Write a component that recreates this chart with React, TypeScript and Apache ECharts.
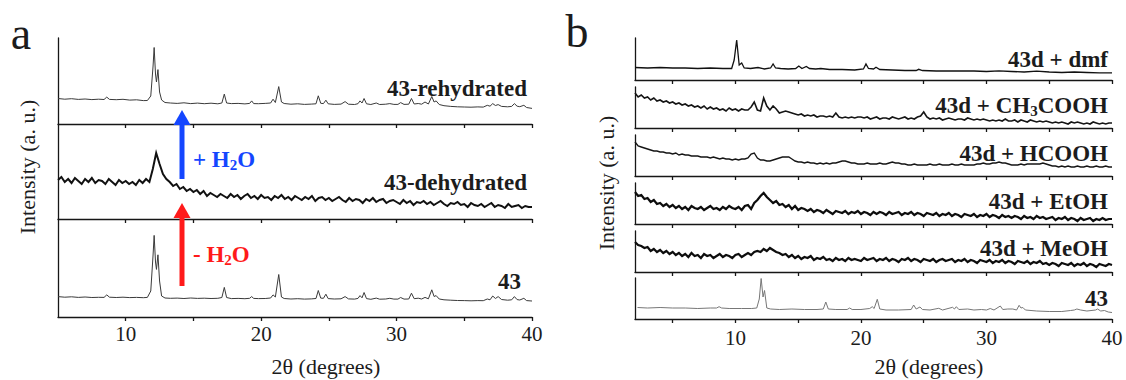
import React, { useEffect, useRef } from "react";
import * as echarts from "echarts";

const FONT = "Liberation Serif";

// ---------- tick values ----------
const A_TICKS = [10, 15, 20, 25, 30, 35, 40];
const A_LABELS = [10, 20, 30, 40];
const B_TICKS = [5, 10, 15, 20, 25, 30, 35, 40];
const B_LABELS = [10, 20, 30, 40];

// ---------- panel a data (intensity in arbitrary units above each baseline axis) ----------
const A_REHYDRATED: [number, number][] = [
  [5, 25.5], [5.5, 24.8], [6, 25.3], [6.5, 24.6], [7, 25], [7.5, 24.4], [8, 24.8], [8.4, 24.5], [8.6, 26.9], [8.8, 24.6],
  [9.3, 24.3], [9.8, 24.7], [10.3, 23.9], [10.8, 24.2], [11.3, 23.4], [11.6, 23.5], [11.85, 28], [12.02, 58], [12.1, 76.5],
  [12.2, 50], [12.27, 42], [12.38, 54.4], [12.5, 32], [12.65, 24], [12.9, 21.5], [13.3, 21], [13.8, 20.6], [14.3, 21.2],
  [14.8, 20.4], [15.3, 20.9], [15.8, 20.3], [16.3, 20.8], [16.8, 20.2], [17.1, 21], [17.28, 29.9], [17.45, 21], [17.8, 20.4],
  [18.3, 20.6], [18.8, 20.1], [19.15, 20.6], [19.3, 23.1], [19.45, 20.4], [19.8, 20.3], [20.3, 20.6], [20.7, 21], [20.88, 24.8],
  [21.05, 21.5], [21.3, 37.4], [21.5, 22], [21.7, 20.5], [22.2, 19.8], [22.7, 20.2], [23.2, 19.6], [23.7, 19.9], [24.05, 20.2],
  [24.22, 28.2], [24.4, 20.7], [24.6, 20.4], [24.78, 23.8], [24.95, 20.2], [25.4, 19.6], [25.9, 19.9], [26.2, 22.4], [26.45, 19.8],
  [26.9, 19.5], [27.15, 20.3], [27.3, 23.1], [27.45, 21], [27.6, 25.5], [27.78, 20.2], [28.1, 19.5], [28.5, 21], [28.75, 19.5],
  [29.2, 19.8], [29.5, 20.4], [29.8, 19.6], [30.1, 19.6], [30.3, 21.4], [30.55, 19.6], [30.9, 19.8], [31.1, 25.5], [31.3, 20],
  [31.6, 20.5], [31.85, 19.8], [32.1, 22], [32.35, 20], [32.6, 27.5], [32.77, 22], [32.92, 23.1], [33.15, 19.5], [33.5, 18.3],
  [34, 17.6], [34.5, 17.2], [35, 17], [35.5, 16.8], [36, 17.1], [36.4, 16.9], [36.7, 18.7], [36.9, 17.8], [37.1, 20.4],
  [37.3, 18.5], [37.5, 19.4], [37.75, 17.6], [38.2, 17.2], [38.5, 17.6], [38.7, 20.4], [38.9, 17.8], [39.1, 17.3], [39.4, 18.7],
  [39.6, 16.5], [40, 15.6],
];

// dehydrated: sampled every 0.25 deg from 5 to 40
const A_DEHYDRATED_START = 5;
const A_DEHYDRATED_STEP = 0.25;
const A_DEHYDRATED: number[] = [
  39, 42, 37, 40, 36, 41, 38, 35, 40, 37, 41, 36, 39, 38, 35, 40, 37, 34, 39, 36,
  38, 35, 37, 34, 39, 36, 40, 37, 50, 66, 55, 45, 40, 37, 33, 35, 30, 32, 28, 30,
  27, 29, 25, 28, 23, 26, 24, 22, 25, 23, 21, 25, 22, 24, 20, 23, 25, 21, 23, 20,
  24, 21, 22, 19, 23, 21, 24, 20, 22, 19, 23, 21, 19, 22, 20, 23, 18, 21, 22, 19,
  21, 18, 20, 22, 19, 17, 21, 18, 20, 19, 16, 20, 18, 21, 17, 19, 20, 16, 18, 19,
  17, 15, 19, 16, 18, 14, 17, 16, 18, 15, 17, 14, 16, 18, 15, 13, 16, 15, 17, 14,
  15, 12, 16, 14, 13, 15, 12, 14, 16, 12, 14, 13, 11, 15, 12, 13, 14, 11, 13, 12,
  12,
];

const A_43: [number, number][] = [
  [5, 20.4], [5.5, 19.8], [6, 20.2], [6.5, 19.6], [7, 20], [7.5, 19.5], [8, 19.7], [8.4, 19.6], [8.6, 22.1], [8.8, 19.8],
  [9.3, 19.5], [9.8, 19.8], [10.3, 19.4], [10.8, 19.6], [11.3, 19.3], [11.6, 19.6], [11.85, 26], [12.02, 62], [12.1, 81.6],
  [12.2, 55], [12.27, 47.6], [12.38, 62.2], [12.5, 36], [12.65, 21], [12.9, 19], [13.3, 18.7], [13.8, 18.9], [14.3, 18.5],
  [14.8, 19], [15.3, 18.6], [15.8, 18.8], [16.3, 18.5], [16.8, 18.7], [17.1, 19.5], [17.28, 29.6], [17.45, 19.5], [17.8, 18.4],
  [18.3, 18.6], [18.8, 18.3], [19.15, 18.7], [19.3, 20.4], [19.45, 18.6], [19.8, 18.4], [20.3, 18.5], [20.7, 19], [20.88, 22.1],
  [21.05, 20], [21.3, 42.5], [21.5, 20], [21.7, 18.5], [22.2, 18], [22.7, 18.3], [23.2, 17.9], [23.7, 18.1], [24.05, 18.5],
  [24.22, 26.5], [24.4, 18.9], [24.6, 18.7], [24.78, 22.8], [24.95, 18.4], [25.4, 18], [25.9, 18.2], [26.2, 20.4], [26.45, 18.1],
  [26.9, 17.9], [27.15, 18.6], [27.3, 21.4], [27.45, 19.2], [27.6, 24.5], [27.78, 18.4], [28.1, 17.7], [28.5, 18.9], [28.75, 17.8],
  [29.2, 18], [29.5, 18.7], [29.8, 17.9], [30.1, 17.9], [30.3, 19.5], [30.55, 17.9], [30.9, 18], [31.1, 23.8], [31.3, 18.3],
  [31.6, 18.8], [31.85, 18], [32.1, 19.6], [32.35, 18.2], [32.6, 27.2], [32.77, 20.5], [32.92, 21.4], [33.15, 18], [33.5, 17.2],
  [34, 16.8], [34.5, 16.5], [35, 16.4], [35.5, 16.2], [36, 16.4], [36.4, 16.3], [36.7, 18], [36.9, 17.2], [37.1, 21],
  [37.3, 18.5], [37.5, 20.4], [37.75, 17.5], [38.2, 16.8], [38.5, 17.2], [38.7, 20.4], [38.9, 17.4], [39.1, 17], [39.4, 18.7],
  [39.6, 16.4], [40, 16],
];

// ---------- panel b data ----------
const B_DMF: [number, number][] = [
  [2, 12.5], [3, 12], [4, 12.5], [5, 12], [6, 12], [7, 11.5], [8, 12], [9, 11.5], [9.7, 11.5], [9.9, 20], [10.1, 40],
  [10.3, 15], [10.5, 17], [10.7, 12], [11.2, 11.5], [11.8, 12.5], [12.3, 11], [12.8, 12], [13.0, 16], [13.2, 12], [13.6, 11.5],
  [14.2, 11], [14.8, 11.5], [15.05, 14], [15.3, 11.5], [15.65, 13.5], [15.9, 11.5], [16.4, 11], [16.8, 11.5], [17.5, 10.5],
  [18.5, 10.5], [19.5, 10], [20.2, 11], [20.4, 16], [20.6, 11.5], [21.0, 11], [21.2, 12.7], [21.5, 10.5], [22.5, 10], [23.5, 9.5],
  [24.4, 9.5], [24.6, 10.7], [24.9, 9.5], [26, 9], [27, 9], [28, 9], [29, 9], [30, 8.5], [31, 9.2], [32, 8.5], [33, 8],
  [34, 8.8], [35, 8], [36, 7.5], [37, 8], [38, 7.5], [39, 7.2], [40, 7.2],
];

// noisy patterns sampled every 0.25 deg from 2 to 40
const B_START = 2;
const B_STEP = 0.25;
const B_CH3COOH: number[] = [
  35, 31, 33, 30, 31, 28, 30, 27, 28, 26, 27, 25, 26, 24, 25, 23, 24, 22, 23, 21,
  22, 20, 22, 19, 21, 19, 20, 18, 19, 17, 20, 18, 19, 17, 19, 18, 18, 21, 26, 18,
  17, 30, 22, 18, 22, 19, 15, 16, 17, 16, 15, 14, 13, 14, 12, 13, 12, 13, 11, 12,
  12, 11, 12, 11, 15, 11, 10, 11, 10, 11, 10, 11, 11, 10, 11, 9, 10, 11, 9, 10,
  10, 9, 11, 10, 9, 10, 11, 9, 10, 9, 11, 12, 16, 11, 9, 10, 9, 10, 8, 9,
  10, 9, 8, 9, 9, 8, 10, 9, 8, 9, 8, 9, 8, 7, 8, 7, 8, 7, 9, 7,
  7, 8, 6, 8, 7, 6, 8, 7, 6, 7, 6, 7, 6, 5, 6, 5, 6, 5, 4, 6,
  5, 6, 5, 4, 5, 4, 6, 5, 4, 5, 4, 5, 5,
];
const B_HCOOH: number[] = [
  34, 30, 29, 28, 27, 26, 25, 25, 24, 24, 23, 23, 22, 23, 21, 22, 21, 21, 20, 20,
  20, 19, 19, 19, 18, 19, 18, 17, 18, 17, 17, 16, 17, 16, 17, 17, 18, 22, 23, 18,
  16, 16, 15, 15, 16, 17, 18, 19, 19, 19, 17, 15, 14, 14, 13, 14, 13, 13, 12, 13,
  12, 13, 12, 13, 13, 14, 15, 15, 14, 13, 13, 12, 12, 12, 13, 12, 12, 12, 13, 12,
  12, 13, 14, 13, 13, 12, 12, 11, 11, 12, 11, 11, 11, 11, 12, 11, 11, 12, 11, 11,
  11, 12, 11, 11, 12, 11, 11, 11, 11, 12, 12, 13, 12, 12, 13, 13, 14, 13, 13, 12,
  11, 11, 11, 12, 11, 12, 12, 12, 12, 12, 13, 12, 11, 10, 10, 9, 10, 9, 10, 9,
  9, 10, 9, 9, 10, 9, 9, 10, 9, 9, 10, 9, 9,
];
const B_ETOH: number[] = [
  32, 28, 29, 25, 26, 22, 24, 20, 21, 18, 20, 17, 19, 16, 18, 15, 17, 14, 18, 16,
  15, 17, 14, 16, 18, 15, 16, 14, 17, 15, 18, 16, 15, 17, 14, 18, 19, 15, 21, 24,
  28, 31, 27, 24, 21, 23, 19, 20, 17, 19, 15, 18, 14, 16, 15, 13, 15, 12, 14, 13,
  11, 14, 12, 10, 13, 12, 11, 13, 10, 12, 11, 13, 10, 12, 11, 9, 12, 10, 12, 11,
  9, 12, 10, 11, 12, 9, 11, 10, 12, 9, 11, 10, 8, 11, 10, 9, 11, 8, 10, 9,
  11, 8, 10, 9, 7, 10, 9, 8, 10, 7, 9, 8, 10, 7, 9, 8, 6, 9, 7, 8,
  6, 8, 7, 5, 8, 6, 7, 5, 8, 6, 7, 5, 6, 7, 4, 6, 5, 7, 4, 6,
  5, 3, 6, 4, 5, 6, 3, 5, 4, 6, 4, 5, 5,
];
const B_MEOH: number[] = [
  30, 27, 26, 24, 25, 21, 23, 20, 22, 19, 21, 18, 20, 17, 19, 16, 18, 15, 19, 16,
  17, 14, 18, 16, 17, 14, 16, 18, 15, 17, 16, 14, 17, 18, 15, 17, 19, 17, 20, 21,
  20, 23, 21, 24, 22, 20, 19, 17, 18, 15, 17, 14, 16, 13, 15, 14, 16, 12, 14, 13,
  15, 12, 13, 11, 14, 12, 13, 11, 14, 12, 13, 12, 11, 14, 12, 13, 14, 11, 13, 12,
  14, 11, 13, 12, 10, 13, 12, 14, 11, 13, 12, 10, 13, 12, 11, 13, 10, 12, 13, 11,
  12, 13, 10, 12, 11, 13, 10, 12, 11, 9, 12, 11, 10, 12, 9, 11, 10, 12, 9, 11,
  10, 8, 11, 10, 9, 11, 8, 10, 9, 11, 8, 9, 7, 9, 8, 6, 9, 8, 7, 9,
  6, 8, 7, 9, 6, 8, 7, 5, 8, 7, 6, 8, 7,
];
const B_43: [number, number][] = [
  [2.2, 11.5], [3, 11], [4, 11.5], [5, 11], [6, 11], [7, 10.5], [8, 11], [8.5, 11], [8.7, 12.3], [8.9, 11], [9.5, 10.5],
  [10.5, 10.5], [11.3, 10.5], [11.7, 11], [11.9, 20], [12.05, 40.5], [12.2, 22], [12.32, 28.5], [12.5, 11], [12.8, 10],
  [13.5, 9.5], [14.5, 10], [15.5, 9.5], [16.5, 9.5], [17.0, 10], [17.2, 17], [17.4, 10], [18, 9.5], [18.9, 9.5], [19.1, 11],
  [19.3, 9.5], [20, 9.5], [20.7, 10.5], [20.9, 12.3], [21.05, 10.5], [21.3, 19.7], [21.5, 10], [22, 9], [23, 9], [24, 9.5],
  [24.2, 14], [24.4, 10], [24.7, 12], [24.9, 9.5], [25.5, 9], [26.2, 10.7], [26.5, 9], [27.3, 11.7], [27.45, 10], [27.6, 12.3],
  [27.8, 9.5], [28.5, 10], [29, 9], [29.6, 9.5], [30, 9], [30.3, 10.5], [30.6, 9], [31.1, 13], [31.3, 9.5], [31.7, 10],
  [32.1, 10], [32.4, 9], [32.6, 13.7], [32.75, 11], [32.9, 11.5], [33.1, 9], [34, 8], [35, 7.5], [36, 7.5], [36.7, 8.5],
  [37.0, 9], [37.2, 10], [37.5, 9], [38, 8], [38.7, 9], [38.85, 10], [39.1, 8], [39.4, 8.5], [39.7, 7], [40, 6.5],
];

// ---------- layout ----------
const A_LEFT = 58;
const A_WIDTH = 474;
const A_GRIDS = [
  { top: 38, height: 86 },
  { top: 124, height: 95 },
  { top: 219, height: 98 },
];
const B_LEFT = 635;
const B_WIDTH = 477;
const B_GRIDS = [
  { top: 38, height: 42 },
  { top: 87, height: 41 },
  { top: 135, height: 41 },
  { top: 183, height: 41 },
  { top: 231, height: 41 },
  { top: 278, height: 41 },
];

const AXIS_COLOR = "#161616";
const TEXT_COLOR = "#1c1c1c";

function uniform(start: number, step: number, vals: number[]): [number, number][] {
  return vals.map((v, i) => [start + i * step, v]);
}

export default function App() {
  const ref = useRef<HTMLDivElement>(null);

  useEffect(() => {
    if (!ref.current) return;
    const chart = echarts.init(ref.current, undefined, { renderer: "svg" });

    const grids: any[] = [];
    const xAxes: any[] = [];
    const yAxes: any[] = [];
    const series: any[] = [];

    const addPanel = (
      left: number,
      width: number,
      layout: { top: number; height: number }[],
      xmin: number,
      ticks: number[],
      labels: number[],
      labelMargin: number,
      traces: { data: [number, number][]; color: string; width: number }[]
    ) => {
      layout.forEach((g, k) => {
        const idx = grids.length;
        grids.push({ left, top: g.top, width, height: g.height, containLabel: false });
        const isBottom = k === layout.length - 1;
        xAxes.push({
          type: "value",
          gridIndex: idx,
          min: xmin,
          max: 40,
          axisLine: { show: true, onZero: false, lineStyle: { color: AXIS_COLOR, width: 1.3 } },
          axisTick: { show: true, inside: false, length: 4, customValues: ticks, lineStyle: { color: AXIS_COLOR, width: 1.3 } },
          axisLabel: {
            show: isBottom,
            customValues: labels,
            fontSize: 21,
            fontFamily: FONT,
            color: TEXT_COLOR,
            margin: labelMargin,
          },
          splitLine: { show: false },
        });
        yAxes.push({
          type: "value",
          gridIndex: idx,
          min: 0,
          max: g.height,
          axisLine: { show: true, onZero: false, lineStyle: { color: AXIS_COLOR, width: 1.3 } },
          axisTick: { show: false },
          axisLabel: { show: false },
          splitLine: { show: false },
        });
        const t = traces[k];
        series.push({
          type: "line",
          xAxisIndex: idx,
          yAxisIndex: idx,
          data: t.data,
          showSymbol: false,
          symbol: "none",
          silent: true,
          lineStyle: { color: t.color, width: t.width, join: "miter" },
        });
      });
    };

    addPanel(A_LEFT, A_WIDTH, A_GRIDS, 5, A_TICKS, A_LABELS, 6, [
      { data: A_REHYDRATED, color: "#3a3a3a", width: 1 },
      { data: uniform(A_DEHYDRATED_START, A_DEHYDRATED_STEP, A_DEHYDRATED), color: "#111", width: 2 },
      { data: A_43, color: "#3a3a3a", width: 1 },
    ]);
    addPanel(B_LEFT, B_WIDTH, B_GRIDS, 2, B_TICKS, B_LABELS, 8, [
      { data: B_DMF, color: "#111", width: 1.3 },
      { data: uniform(B_START, B_STEP, B_CH3COOH), color: "#151515", width: 1.6 },
      { data: uniform(B_START, B_STEP, B_HCOOH), color: "#151515", width: 1.4 },
      { data: uniform(B_START, B_STEP, B_ETOH), color: "#0d0d0d", width: 2.2 },
      { data: uniform(B_START, B_STEP, B_MEOH), color: "#0d0d0d", width: 2.2 },
      { data: B_43, color: "#777", width: 1 },
    ]);

    const label = (text: string, x: number, y: number) => ({
      type: "text",
      x,
      y,
      z: 100,
      style: {
        text,
        fontFamily: FONT,
        fontSize: 23,
        fontWeight: "bold",
        fill: TEXT_COLOR,
        align: "right",
        verticalAlign: "middle",
      },
    });

    const subRich = (color: string) => ({
      a: { fontFamily: FONT, fontSize: 23, fontWeight: "bold", fill: color, color, lineHeight: 26 },
      s: { fontFamily: FONT, fontSize: 15, fontWeight: "bold", fill: color, color, lineHeight: 10, verticalAlign: "bottom" },
    });

    const BLUE = "#1446ff";
    const RED = "#ff1a1a";

    const plain = (text: string, x: number, y: number, size: number, rotation = 0) => ({
      type: "text",
      x,
      y,
      rotation,
      style: { text, fontFamily: FONT, fontSize: size, fill: TEXT_COLOR, align: "center", verticalAlign: "middle" },
    });

    const graphic: any[] = [
      plain("a", 21, 33, 46),
      plain("b", 577, 31, 46),
      plain("Intensity (a. u.)", 27, 167, 22, Math.PI / 2),
      plain("Intensity (a. u.)", 606, 183, 22, Math.PI / 2),
      plain("2θ (degrees)", 326, 366, 22),
      plain("2θ (degrees)", 929, 366, 22),
      label("43-rehydrated", 527, 88),
      label("43-dehydrated", 527, 182),
      label("43", 521, 281),
      label("43d + dmf", 1108, 59),
      {
        type: "text", x: 1108, y: 105, z: 100,
        style: { text: "{a|43d + CH}{s|3}{a|COOH}", rich: subRich(TEXT_COLOR), align: "right", verticalAlign: "middle", fill: TEXT_COLOR },
      },
      label("43d + HCOOH", 1108, 153),
      label("43d + EtOH", 1108, 201),
      label("43d + MeOH", 1108, 248),
      label("43", 1108, 298),
      // arrows
      { type: "rect", z: 90, shape: { x: 179.5, y: 123, width: 5, height: 56 }, style: { fill: BLUE } },
      { type: "polygon", z: 90, shape: { points: [[173.5, 125], [190.5, 125], [182, 110]] }, style: { fill: BLUE } },
      { type: "rect", z: 90, shape: { x: 179.5, y: 216, width: 5, height: 70 }, style: { fill: RED } },
      { type: "polygon", z: 90, shape: { points: [[173.5, 218], [190.5, 218], [182, 203]] }, style: { fill: RED } },
      {
        type: "text", x: 193, y: 159, z: 100,
        style: { text: "{a|+ H}{s|2}{a|O}", rich: subRich(BLUE), align: "left", verticalAlign: "middle", fill: BLUE },
      },
      {
        type: "text", x: 193, y: 254, z: 100,
        style: { text: "{a|- H}{s|2}{a|O}", rich: subRich(RED), align: "left", verticalAlign: "middle", fill: RED },
      },
    ];

    chart.setOption({
      animation: false,
      backgroundColor: "#ffffff",
      grid: grids,
      xAxis: xAxes,
      yAxis: yAxes,
      series,
      graphic,
    });

    return () => chart.dispose();
  }, []);

  return (
    <div
      ref={ref}
      style={{ position: "fixed", left: 0, top: 0, width: 1126, height: 380, background: "#fff" }}
    />
  );
}
